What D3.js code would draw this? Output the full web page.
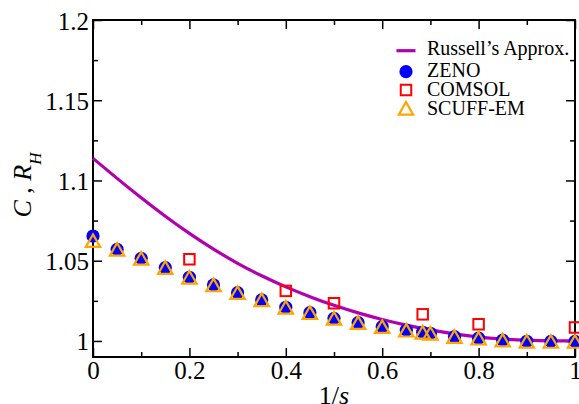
<!DOCTYPE html>
<html>
<head>
<meta charset="utf-8">
<script src="https://cdn.jsdelivr.net/npm/d3@7"></script>
<style>
  html, body { margin: 0; padding: 0; background: #fff; }
  svg { display: block; }
  svg text { font-family: "Liberation Serif", "Times New Roman", serif; fill: #000; }
</style>
</head>
<body>
<svg id="chart" width="579" height="404" font-family="Liberation Serif, serif"></svg>
<script>
// Russell's approximation, sampled along 1/s
const xRussell = [0, 0.05, 0.1, 0.15, 0.2, 0.25, 0.3, 0.35, 0.4, 0.45, 0.5,
                  0.55, 0.6, 0.65, 0.7, 0.75, 0.8, 0.85, 0.9, 0.95, 1];
const russell  = [1.1138, 1.1013, 1.0892, 1.0777, 1.0670, 1.0572, 1.0484, 1.0406, 1.0337, 1.0276, 1.0222,
                  1.0175, 1.0134, 1.0099, 1.0069, 1.0044, 1.0024, 1.0012, 1.0005, 1.0001, 1.0000];

// ZENO and SCUFF-EM share the same 1/s values
const xPoints = [0, 0.05, 0.1, 0.15, 0.2, 0.25, 0.3, 0.35, 0.4, 0.45, 0.5,
                 0.55, 0.6, 0.65, 0.684, 0.7, 0.75, 0.8, 0.85, 0.9, 0.95, 1];
const zeno    = [1.0654, 1.0571, 1.0515, 1.0457, 1.0397, 1.0349, 1.0301, 1.0256, 1.0210, 1.0176, 1.0141,
                 1.0114, 1.0089, 1.0067, 1.0054, 1.0048, 1.0027, 1.0017, 1.0005, 0.9998, 0.9997, 0.9997];
const scuff   = [1.0625, 1.0571, 1.0515, 1.0457, 1.0397, 1.0349, 1.0301, 1.0256, 1.0210, 1.0176, 1.0141,
                 1.0114, 1.0089, 1.0067, 1.0054, 1.0048, 1.0027, 1.0017, 1.0005, 0.9998, 0.9997, 0.9997];

const xComsol = [0.2, 0.4, 0.5, 0.684, 0.8, 1];
const comsol  = [1.0509, 1.0312, 1.0235, 1.0166, 1.0104, 1.0084];

const xMajor = [0, 0.2, 0.4, 0.6, 0.8, 1];
const xMinor = [0.1, 0.3, 0.5, 0.7, 0.9];
const yMajor = [1, 1.05, 1.1, 1.15, 1.2];
const yMinor = [1.025, 1.075, 1.125, 1.175];

const legendLabels = ["Russell\u2019s Approx.", "ZENO", "COMSOL", "SCUFF-EM"];

const colors = { russell: "#b000b0", zeno: "#0000ff", comsol: "#ff0000", scuff: "#ffa500" };

const W = 579, H = 404;
const margin = { top: 20, right: 4, bottom: 47, left: 93 };
const svg = d3.select("#chart");

const x = d3.scaleLinear().domain([0, 1]).range([margin.left, W - margin.right]);
const y = d3.scaleLinear().domain([0.99, 1.2]).range([H - margin.bottom, margin.top]);

const x0 = x.range()[0], x1 = x.range()[1];
const y0 = y.range()[0], y1 = y.range()[1];

// axis helper: ticks point inward, labels optional
function drawAxis(axisFn, scale, values, size, labels, transform) {
  const ax = axisFn(scale).tickValues(values).tickSizeInner(-size).tickSizeOuter(0)
    .tickFormat(labels ? d3.format("") : () => "").tickPadding(0);
  const g = svg.append("g").attr("transform", transform).call(ax)
    .attr("font-family", "Liberation Serif, serif").attr("font-size", 25);
  g.select(".domain").remove();
  g.selectAll(".tick line").attr("stroke", "#000").attr("stroke-width", 1.5);
  return g;
}

// bottom
const gb = drawAxis(d3.axisBottom, x, xMajor, 9, true, `translate(0,${y0})`);
gb.selectAll("text").attr("y", 22).attr("dy", 0);
drawAxis(d3.axisBottom, x, xMinor, 5, false, `translate(0,${y0})`);
// top
drawAxis(d3.axisTop, x, xMajor, 9, false, `translate(0,${y1})`);
drawAxis(d3.axisTop, x, xMinor, 5, false, `translate(0,${y1})`);
// left
const gl = drawAxis(d3.axisLeft, y, yMajor, 9, true, `translate(${x0},0)`);
gl.selectAll("text").attr("x", -4).attr("dy", "0.36em");
drawAxis(d3.axisLeft, y, yMinor, 5, false, `translate(${x0},0)`);
// right
drawAxis(d3.axisRight, y, yMajor, 9, false, `translate(${x1},0)`);
drawAxis(d3.axisRight, y, yMinor, 5, false, `translate(${x1},0)`);

// frame
svg.append("rect")
  .attr("x", x0).attr("y", y1).attr("width", x1 - x0).attr("height", y0 - y1)
  .attr("fill", "none").attr("stroke", "#000").attr("stroke-width", 2);

// Russell curve
const line = d3.line().x(d => x(d[0])).y(d => y(d[1])).curve(d3.curveNatural);
svg.append("path")
  .datum(xRussell.map((v, i) => [v, russell[i]]))
  .attr("d", line)
  .attr("fill", "none").attr("stroke", colors.russell).attr("stroke-width", 3.2);

// marker shapes
const tri = "M0,-6.3L7.2,6.3L-7.2,6.3Z";
const sq = 10.5;

// ZENO circles
svg.append("g").selectAll("circle")
  .data(xPoints.map((v, i) => [v, zeno[i]]))
  .join("circle")
  .attr("cx", d => x(d[0])).attr("cy", d => y(d[1])).attr("r", 6.6)
  .attr("fill", colors.zeno);

// COMSOL squares
svg.append("g").selectAll("rect")
  .data(xComsol.map((v, i) => [v, comsol[i]]))
  .join("rect")
  .attr("x", d => x(d[0]) - sq / 2).attr("y", d => y(d[1]) - sq / 2)
  .attr("width", sq).attr("height", sq)
  .attr("fill", "none").attr("stroke", colors.comsol).attr("stroke-width", 2);

// SCUFF-EM triangles
svg.append("g").selectAll("path")
  .data(xPoints.map((v, i) => [v, scuff[i]]))
  .join("path")
  .attr("transform", d => `translate(${x(d[0])},${y(d[1])})`)
  .attr("d", tri)
  .attr("fill", "none").attr("stroke", colors.scuff).attr("stroke-width", 2.2);

// legend
const leg = svg.append("g");
const legBase = [54.5, 77.3, 96, 114.5];
const symX = 406, textX = 427;
leg.append("line")
  .attr("x1", symX - 9.5).attr("x2", symX + 9.5)
  .attr("y1", 50.7).attr("y2", 50.7)
  .attr("stroke", colors.russell).attr("stroke-width", 3.2);
leg.append("circle").attr("cx", symX).attr("cy", 71.7).attr("r", 6.6).attr("fill", colors.zeno);
leg.append("rect").attr("x", symX - sq / 2).attr("y", 90 - sq / 2).attr("width", sq).attr("height", sq)
  .attr("fill", "none").attr("stroke", colors.comsol).attr("stroke-width", 2);
leg.append("path").attr("transform", `translate(${symX},108.3)`).attr("d", tri)
  .attr("fill", "none").attr("stroke", colors.scuff).attr("stroke-width", 2.2);
leg.selectAll("text.lab")
  .data(legendLabels)
  .join("text").attr("class", "lab")
  .attr("x", textX).attr("y", (d, i) => legBase[i])
  .attr("font-size", 20)
  .text(d => d);

// x axis title: 1/s
const xt = svg.append("text")
  .attr("x", (x0 + x1) / 2).attr("y", 404)
  .attr("text-anchor", "middle").attr("font-size", 26);
xt.append("tspan").text("1/");
xt.append("tspan").attr("font-style", "italic").text("s");

// y axis title: C , R_H
const yt = svg.append("text")
  .attr("transform", "translate(31,185) rotate(-90)")
  .attr("text-anchor", "middle").attr("font-size", 26);
yt.append("tspan").attr("font-style", "italic").text("C");
yt.append("tspan").text(" , ");
yt.append("tspan").attr("font-style", "italic").text("R");
yt.append("tspan").attr("font-style", "italic").attr("font-size", 17).attr("dy", 10).text("H");
</script>
</body>
</html>
